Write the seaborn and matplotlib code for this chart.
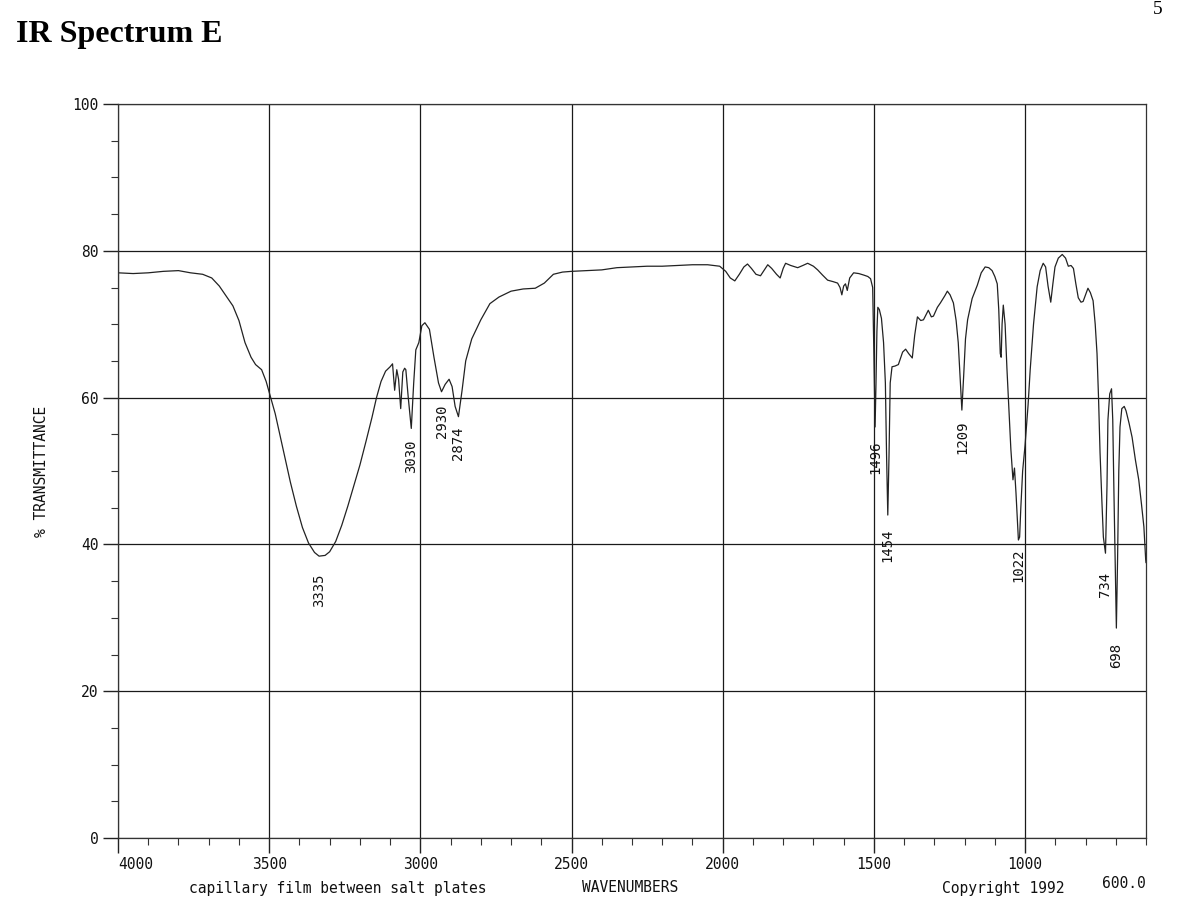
import matplotlib
matplotlib.use("Agg")
import matplotlib.pyplot as plt
import numpy as np
import pandas as pd
import seaborn as sns
from matplotlib.ticker import MultipleLocator

# ---------------- data ----------------
wavenumber = [4000, 3950, 3900, 3850, 3800, 3760, 3720, 3690, 3665, 3645, 3620, 3600,
              3580, 3560, 3545, 3525, 3510, 3495, 3480, 3465, 3450, 3430, 3410, 3390,
              3370, 3350, 3335, 3315, 3300, 3280, 3260, 3240, 3220, 3200, 3180, 3160,
              3145, 3130, 3115, 3100, 3092, 3085, 3078, 3072, 3065, 3058, 3052, 3048,
              3040, 3030, 3022, 3015, 3005, 2995, 2985, 2970, 2955, 2940, 2930, 2918,
              2905, 2895, 2885, 2874, 2862, 2850, 2830, 2800, 2770, 2740, 2700, 2660,
              2620, 2590, 2560, 2530, 2500, 2450, 2400, 2350, 2300, 2250, 2200, 2150,
              2100, 2050, 2010, 1990, 1975, 1960, 1945, 1930, 1918, 1905, 1890, 1875,
              1862, 1851, 1838, 1822, 1810, 1800, 1792, 1775, 1752, 1735, 1719, 1700,
              1686, 1670, 1653, 1635, 1620, 1612, 1606, 1600, 1594, 1588, 1580, 1567,
              1550, 1534, 1520, 1511, 1504, 1500, 1496, 1493, 1490, 1487, 1482, 1475,
              1468, 1462, 1458, 1454, 1450, 1446, 1440, 1430, 1419, 1405, 1395, 1385,
              1373, 1365, 1356, 1345, 1336, 1320, 1310, 1303, 1290, 1280, 1265, 1257,
              1248, 1237, 1228, 1221, 1215, 1209, 1203, 1197, 1190, 1175, 1158, 1145,
              1132, 1120, 1109, 1100, 1092, 1087, 1082, 1079, 1076, 1072, 1066, 1060,
              1054, 1047, 1040, 1035, 1030, 1022, 1018, 1014, 1008, 1000, 990, 983,
              972, 960, 950, 940, 932, 924, 915, 908, 901, 890, 877, 866,
              857, 848, 840, 832, 824, 815, 808, 800, 792, 784, 775, 768,
              762, 757, 752, 746, 741, 734, 729, 726, 720, 714, 710, 706,
              702, 698, 694, 690, 686, 680, 672, 666, 656, 646, 635, 624,
              615, 607, 601, 600]
transmittance = [77.0, 76.9, 77.0, 77.2, 77.3, 77.0, 76.8, 76.3, 75.2, 74.0, 72.5, 70.5,
                 67.5, 65.5, 64.5, 63.8, 62.2, 60.0, 57.8, 55.0, 52.2, 48.5, 45.2, 42.3,
                 40.2, 38.9, 38.4, 38.5, 39.0, 40.4, 42.6, 45.2, 48.0, 50.8, 54.0, 57.3,
                 60.0, 62.2, 63.6, 64.2, 64.6, 61.0, 63.8, 62.5, 58.5, 63.5, 64.0, 63.8,
                 60.0, 55.8, 62.0, 66.5, 67.5, 69.8, 70.2, 69.3, 65.5, 62.0, 60.8, 61.8,
                 62.5, 61.5, 58.8, 57.4, 61.0, 65.0, 68.0, 70.6, 72.8, 73.7, 74.5, 74.8,
                 74.9, 75.6, 76.8, 77.1, 77.2, 77.3, 77.4, 77.7, 77.8, 77.9, 77.9, 78.0,
                 78.1, 78.1, 77.9, 77.2, 76.3, 75.9, 76.8, 77.8, 78.2, 77.6, 76.8, 76.6,
                 77.4, 78.1, 77.6, 76.8, 76.3, 77.6, 78.3, 78.0, 77.7, 78.0, 78.3, 77.9,
                 77.4, 76.7, 76.0, 75.8, 75.6, 75.0, 74.0, 75.2, 75.5, 74.6, 76.3, 77.0,
                 76.9, 76.7, 76.5, 76.2, 75.0, 66.0, 56.0, 62.0, 69.0, 72.3, 72.0, 70.8,
                 67.5, 62.0, 52.0, 44.0, 52.0, 62.0, 64.2, 64.3, 64.5, 66.2, 66.6, 66.0,
                 65.4, 68.5, 71.0, 70.5, 70.6, 71.9, 71.0, 71.1, 72.3, 72.9, 73.9, 74.5,
                 74.0, 72.9, 70.5, 67.5, 63.0, 58.3, 63.0, 68.0, 70.6, 73.5, 75.3, 77.0,
                 77.8, 77.7, 77.3, 76.5, 75.5, 72.0, 66.0, 65.5, 70.0, 72.6, 70.0, 64.0,
                 59.0, 53.0, 48.8, 50.4, 47.0, 40.6, 41.0, 45.0, 50.0, 53.5, 59.0, 63.8,
                 70.0, 75.1, 77.3, 78.3, 77.8, 75.2, 73.0, 75.5, 77.8, 79.0, 79.5, 79.0,
                 77.9, 78.0, 77.6, 75.5, 73.6, 73.0, 73.1, 74.0, 74.9, 74.3, 73.2, 70.0,
                 66.0, 60.0, 52.5, 46.0, 41.0, 38.8, 48.0, 56.9, 60.5, 61.2, 57.0, 47.0,
                 38.0, 28.6, 38.0, 50.0, 56.0, 58.5, 58.8, 58.2, 56.5, 54.6, 51.5, 48.8,
                 45.5, 42.4, 37.9, 37.5]

peak_wn = [3335, 3030, 2930, 2874, 1496, 1454, 1209, 1022, 734, 698]
peak_label_pos = [33.8, 52.0, 56.8, 53.8, 51.9, 39.9, 54.6, 37.1, 34.5, 24.9]

x_ticks = [4000, 3500, 3000, 2500, 2000, 1500, 1000]
x_tick_labels = ["4000", "3500", "3000", "2500", "2000", "1500", "1000"]
y_ticks = [0, 20, 40, 60, 80, 100]
y_tick_labels = ["0", "20", "40", "60", "80", "100"]

# ---------------- figure ----------------
sns.set_style("white")
plt.rcParams['font.family'] = ['DejaVu Sans Mono']
plt.rcParams['text.color'] = 'black'

W, H = 1194, 918
fig = plt.figure(figsize=(W / 100, H / 100), dpi=100)
left, right, top, bottom = 118, 1146, 104, 838
ax = fig.add_axes([left / W, 1 - bottom / H, (right - left) / W, (bottom - top) / H])

df = pd.DataFrame({"wn": wavenumber, "T": transmittance})
sns.lineplot(data=df, x="wn", y="T", ax=ax, color="#222222", linewidth=0.9,
             estimator=None, sort=False)

ax.set_xlim(4000, 600)
ax.set_ylim(0, 100)
ax.set_xlabel("")
ax.set_ylabel("")

ax.set_xticks(x_ticks)
ax.set_xticklabels(x_tick_labels, fontsize=10.5)
ax.set_yticks(y_ticks)
ax.set_yticklabels(y_tick_labels, fontsize=10.5)
ax.get_xticklabels()[0].set_horizontalalignment("left")
ax.xaxis.set_minor_locator(MultipleLocator(100))
ax.yaxis.set_minor_locator(MultipleLocator(5))
ax.tick_params(which="major", direction="out", length=11, width=1.0, color="#222222",
               pad=3, labelcolor="#111111")
ax.tick_params(which="minor", direction="out", length=5, width=0.8, color="#333333")
ax.tick_params(axis="x", which="both", bottom=True)
ax.tick_params(axis="y", which="both", left=True)

ax.grid(True, which="major", color="#1a1a1a", linewidth=0.9)
for s in ax.spines.values():
    s.set_color("#333333")
    s.set_linewidth(0.9)

for wn, pos in zip(peak_wn, peak_label_pos):
    ax.text(wn, pos, str(wn), rotation=90, ha="center", va="center",
            fontsize=10, color="#111111")

fig.text(42 / W, 1 - 471 / H, "% TRANSMITTANCE", rotation=90, ha="center",
         va="center", fontsize=10.5, color="#111111")
fig.text(338 / W, 1 - 888 / H, "capillary film between salt plates", ha="center",
         va="center", fontsize=10.5, color="#111111")
fig.text(630 / W, 1 - 888 / H, "WAVENUMBERS", ha="center", va="center",
         fontsize=10.5, color="#111111")
fig.text(1003 / W, 1 - 888 / H, "Copyright 1992", ha="center", va="center",
         fontsize=10.5, color="#111111")
fig.text(1146 / W, 1 - 884 / H, "600.0", ha="right", va="center",
         fontsize=10.5, color="#111111")

fig.text(16 / W, 1 - 42 / H, "IR Spectrum E", family=["Liberation Serif"],
         fontweight="bold", fontsize=23, va="baseline", ha="left", color="black")
fig.text(1153 / W, 0.999, "5", family=["Liberation Serif"], fontsize=14,
         va="top", ha="left", color="black")

fig.savefig("out.png", dpi=100, facecolor="white")
